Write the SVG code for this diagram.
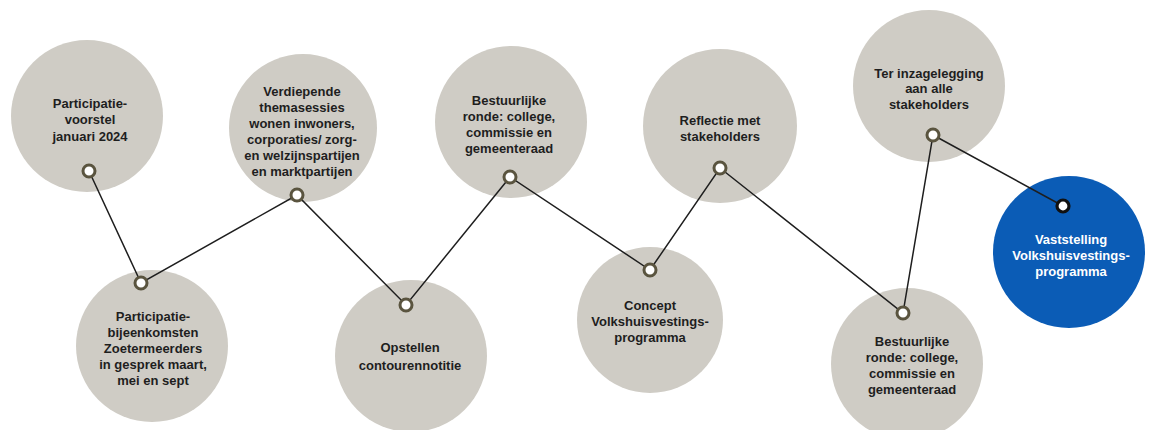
<svg xmlns="http://www.w3.org/2000/svg" width="1152" height="430" viewBox="0 0 1152 430">
<style>
.bg{fill:#ffffff}
.c{fill:#cfccc5}
.cb{fill:#0b5cb6}
.t{font-family:"Liberation Sans",Arial,sans-serif;font-weight:bold;font-size:13px;fill:#1e1e1e;text-anchor:middle}
.tw{fill:#ffffff}
.ln{fill:none;stroke:#1e1e1e;stroke-width:1.5}
.ring{fill:#ffffff;stroke:#5a543f;stroke-width:3}
.ringb{fill:#ffffff;stroke:#111111;stroke-width:3.2}
</style>
<rect class="bg" x="0" y="0" width="1152" height="430"/>
<g id="node1"><circle class="c" cx="87" cy="116" r="76"/>
<text class="t"><tspan x="90" y="107.5">Participatie-</tspan><tspan x="90" y="124">voorstel</tspan><tspan x="90" y="140.5">januari 2024</tspan></text></g>
<g id="node2"><circle class="c" cx="303" cy="128" r="74"/>
<text class="t"><tspan x="302" y="95.5">Verdiepende</tspan><tspan x="302" y="111.5">themasessies</tspan><tspan x="302" y="127.5">wonen inwoners,</tspan><tspan x="302" y="143.5">corporaties/ zorg-</tspan><tspan x="302" y="159.5">en welzijnspartijen</tspan><tspan x="302" y="175.5">en marktpartijen</tspan></text></g>
<g id="node3"><circle class="c" cx="152" cy="346" r="76"/>
<text class="t"><tspan x="153" y="320.5">Participatie-</tspan><tspan x="153" y="336.7">bijeenkomsten</tspan><tspan x="153" y="352.9">Zoetermeerders</tspan><tspan x="153" y="369.1">in gesprek maart,</tspan><tspan x="153" y="385.3">mei en sept</tspan></text></g>
<g id="node4"><circle class="c" cx="411" cy="356" r="76"/>
<text class="t"><tspan x="410" y="351.5">Opstellen</tspan><tspan x="410" y="370">contourennotitie</tspan></text></g>
<g id="node5"><circle class="c" cx="511" cy="122" r="76"/>
<text class="t"><tspan x="509" y="104.5">Bestuurlijke</tspan><tspan x="509" y="120.5">ronde: college,</tspan><tspan x="509" y="136.5">commissie en</tspan><tspan x="509" y="152.5">gemeenteraad</tspan></text></g>
<g id="node6"><circle class="c" cx="650" cy="320" r="73"/>
<text class="t"><tspan x="650" y="309.5">Concept</tspan><tspan x="650" y="325.5">Volkshuisvestings-</tspan><tspan x="650" y="341.5">programma</tspan></text></g>
<g id="node7"><circle class="c" cx="720" cy="126" r="77"/>
<text class="t"><tspan x="720" y="124.5">Reflectie met</tspan><tspan x="720" y="140.5">stakeholders</tspan></text></g>
<g id="node8"><circle class="c" cx="929" cy="86" r="76"/>
<text class="t"><tspan x="929" y="77.5">Ter inzagelegging</tspan><tspan x="929" y="93">aan alle</tspan><tspan x="929" y="108.5">stakeholders</tspan></text></g>
<g id="node9"><circle class="c" cx="907" cy="364" r="76"/>
<text class="t"><tspan x="912" y="345.5">Bestuurlijke</tspan><tspan x="912" y="361.8">ronde: college,</tspan><tspan x="912" y="378.1">commissie en</tspan><tspan x="912" y="394.4">gemeenteraad</tspan></text></g>
<g id="node10"><circle class="cb" cx="1069" cy="252" r="76"/>
<text class="t tw"><tspan x="1071" y="243.5">Vaststelling</tspan><tspan x="1071" y="259.5">Volkshuisvestings-</tspan><tspan x="1071" y="275.5">programma</tspan></text></g>
<g id="connectors">
<polyline class="ln" points="89,171 141,283 297,195 406,305 510,177 650,270 720,168 903,313 933,135 1063,206"/>
</g>
<g id="ports">
<circle class="ring" cx="89" cy="171" r="6"/>
<circle class="ring" cx="141" cy="283" r="6"/>
<circle class="ring" cx="297" cy="195" r="6"/>
<circle class="ring" cx="406" cy="305" r="6"/>
<circle class="ring" cx="510" cy="177" r="6"/>
<circle class="ring" cx="650" cy="270" r="6"/>
<circle class="ring" cx="720" cy="168" r="6"/>
<circle class="ring" cx="903" cy="313" r="6"/>
<circle class="ring" cx="933" cy="135" r="6"/>
<circle class="ringb" cx="1063" cy="206" r="6"/>
</g>
</svg>
